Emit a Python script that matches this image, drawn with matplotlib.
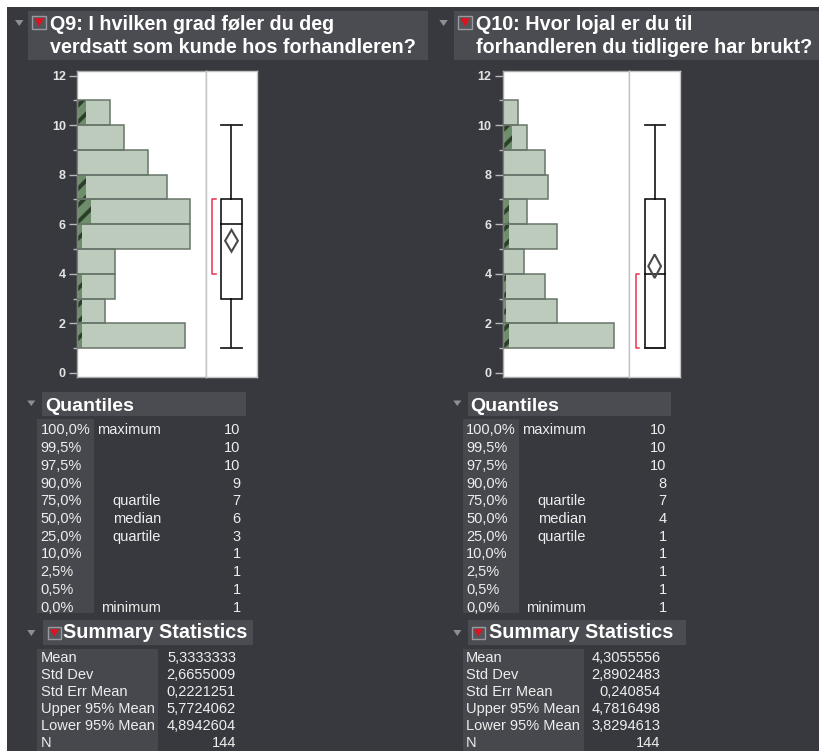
import matplotlib
matplotlib.use("Agg")
import matplotlib.pyplot as plt
from matplotlib.patches import Rectangle, Polygon

plt.rcParams['font.family'] = ['Liberation Sans', 'DejaVu Sans']
plt.rcParams['hatch.linewidth'] = 2.8

# histogram counts per answer value (1..10)
values = [1, 2, 3, 4, 5, 6, 7, 8, 9, 10]
q9_counts = [23, 6, 8, 8, 24, 24, 19, 15, 10, 7]
q10_counts = [37, 18, 14, 7, 18, 8, 15, 14, 8, 5]
# selected rows (hatched part of each bar)
q9_selected = [1, 1, 1, 0, 1, 3, 2, 0, 0, 2]
q10_selected = [2, 1, 1, 0, 2, 2, 0, 0, 3, 0]

q9_title = ["Q9: I hvilken grad føler du deg", "verdsatt som kunde hos forhandleren?"]
q10_title = ["Q10: Hvor lojal er du til", "forhandleren du tidligere har brukt?"]

q_pct = ["100,0%", "99,5%", "97,5%", "90,0%", "75,0%", "50,0%", "25,0%",
         "10,0%", "2,5%", "0,5%", "0,0%"]
q_lbl = ["maximum", "", "", "", "quartile", "median", "quartile", "", "", "", "minimum"]
q9_quant = [10, 10, 10, 9, 7, 6, 3, 1, 1, 1, 1]
q10_quant = [10, 10, 10, 8, 7, 4, 1, 1, 1, 1, 1]

stat_names = ["Mean", "Std Dev", "Std Err Mean", "Upper 95% Mean", "Lower 95% Mean", "N"]
q9_stats = ["5,3333333", "2,6655009", "0,2221251", "5,7724062", "4,8942604", "144"]
q10_stats = ["4,3055556", "2,8902483", "0,240854", "4,7816498", "3,8294613", "144"]

# shortest half bracket
q9_short = [4, 7]
q10_short = [1, 4]

W, H = 820, 751
BG = '#37393e'
HEAD = '#4b4c51'
SHADE = '#46484d'
TXT = '#eeeeee'

fig = plt.figure(figsize=(W / 100, H / 100), dpi=100, facecolor='white')


def fx(x):
    return x / W


def fy(y):
    return 1 - y / H


def rect(x0, y0, x1, y1, fc, ec='none', lw=0, z=-1):
    fig.add_artist(Rectangle((fx(x0), fy(y1)), (x1 - x0) / W, (y1 - y0) / H,
                             transform=fig.transFigure, facecolor=fc,
                             edgecolor=ec, linewidth=lw, zorder=z))


def tri_down(x0, y0, x1, y1, color, z=-0.5):
    fig.add_artist(Polygon([(fx(x0), fy(y0)), (fx(x1), fy(y0)), (fx((x0 + x1) / 2), fy(y1))],
                           closed=True, transform=fig.transFigure,
                           facecolor=color, edgecolor='none', zorder=z))


def red_icon(x0, y0, x1, y1):
    rect(x0, y0, x1, y1, '#55565b', ec='#9a9a9e', lw=1, z=-0.8)
    tri_down(x0 + 2.2, y0 + 2.2, x1 - 2.2, y1 - 2.2, '#e3101e')


def put(x, y, s, size=10.5, ha='left', weight='normal', color=TXT):
    fig.text(fx(x), fy(y), s, ha=ha, va='baseline', fontsize=size,
             fontweight=weight, color=color)


def to_num(s):
    return float(s.replace(',', '.'))


# dark window background
rect(6.7, 7.3, W, H, BG, z=-2)

panels = [
    dict(title=q9_title, counts=q9_counts, sel=q9_selected, quant=q9_quant,
         stats=q9_stats, short=q9_short,
         hist=(77, 206), box=(206, 257),
         tbox=(28.3, 428.3), ttri=15, ticon=32.3, ttext=50,
         qhead=(41.7, 245.7), qcol=(36.7, 94.3), qtxt=(40.7, 161, 240.7), qtri=27.3, qhx=45,
         shead=(42.7, 253), scol=(37.3, 158.3), stxt=(40.7, 236), sicon=47.7, shx=63.5),
    dict(title=q10_title, counts=q10_counts, sel=q10_selected, quant=q10_quant,
         stats=q10_stats, short=q10_short,
         hist=(502.7, 629.3), box=(629.3, 680),
         tbox=(454, 820), ttri=439.3, ticon=458.3, ttext=475.7,
         qhead=(467.7, 671), qcol=(462.7, 519.3), qtxt=(466, 586, 666.7), qtri=453.3, qhx=470.7,
         shead=(467.7, 685.7), scol=(462.7, 584), stxt=(466, 660.7), sicon=471.7, shx=489.5),
]

y_top, y_bot = 71, 377
ylim = (-0.17, 12.19)

for p in panels:
    # title block
    rect(p['tbox'][0], 10.7, p['tbox'][1], 60, HEAD)
    tri_down(p['ttri'], 20, p['ttri'] + 8.5, 26, '#8d8f94')
    red_icon(p['ticon'], 16, p['ticon'] + 13.5, 29)
    put(p['ttext'], 30, p['title'][0], size=14.2, weight='bold', color='white')
    put(p['ttext'] + 0.5, 53.3, p['title'][1], size=14.2, weight='bold', color='white')

    # histogram
    h0, h1 = p['hist']
    ax = fig.add_axes([fx(h0), fy(y_bot), (h1 - h0) / W, (y_bot - y_top) / H])
    counts = p['counts']
    ax.barh(values, counts, height=1, align='edge', color='#bccbbb', linewidth=0, zorder=1)
    ax.barh(values, p['sel'], height=1, align='edge', facecolor='#6e8d6b',
            edgecolor='#2c3f2b', hatch='//', linewidth=0, zorder=2)
    ax.barh(values, counts, height=1, align='edge', facecolor='none',
            edgecolor='#68756a', linewidth=1.1, zorder=3)
    ax.set_xlim(0, max(counts) * 1.14)
    ax.set_ylim(*ylim)
    ax.set_xticks([])
    ax.set_yticks(range(0, 13, 2))
    ax.set_yticks(range(1, 12, 2), minor=True)
    ax.tick_params(axis='y', which='major', length=6, width=1, color='#b8b8b8',
                   labelcolor='#e4e4e4', labelsize=9, pad=2)
    ax.tick_params(axis='y', which='minor', length=3, width=1, color='#b8b8b8')
    for lbl in ax.get_yticklabels():
        lbl.set_fontweight('bold')
    for s in ax.spines.values():
        s.set_color('#a8a8a8')
        s.set_linewidth(1)

    # box plot
    b0, b1 = p['box']
    bx = fig.add_axes([fx(b0), fy(y_bot), (b1 - b0) / W, (y_bot - y_top) / H])
    bx.set_xlim(0, 1)
    bx.set_ylim(*ylim)
    bx.set_xticks([])
    bx.set_yticks([])
    for s in bx.spines.values():
        s.set_color('#c4c4c4')
        s.set_linewidth(1)
    q = p['quant']
    vmax, q3, med, q1, vmin = q[0], q[4], q[5], q[6], q[10]
    c, hw = 0.5, 0.197
    bx.add_patch(Rectangle((c - hw, q1), 2 * hw, q3 - q1, facecolor='white',
                           edgecolor='black', linewidth=1.1, zorder=2))
    bx.plot([c - hw, c + hw], [med, med], color='black', lw=1.1, zorder=3)
    bx.plot([c, c], [q3, vmax], color='black', lw=1.1)
    bx.plot([c, c], [vmin, q1], color='black', lw=1.1)
    bx.plot([c - hw, c + hw], [vmax, vmax], color='#222222', lw=1.3)
    bx.plot([c - hw, c + hw], [vmin, vmin], color='#222222', lw=1.3)
    mean = to_num(p['stats'][0])
    upper = to_num(p['stats'][3])
    lower = to_num(p['stats'][4])
    dw = 0.125
    bx.add_patch(Polygon([(c, lower), (c + dw, mean), (c, upper), (c - dw, mean)],
                         closed=True, facecolor='none', edgecolor='#4a4a4a',
                         linewidth=1.5, zorder=4))
    lo, hi = p['short']
    bx.plot([0.19, 0.124, 0.124, 0.19], [hi, hi, lo, lo], color='#e8334d', lw=1.1)

    # quantiles table
    rect(p['qhead'][0], 391.7, p['qhead'][1], 416, HEAD)
    tri_down(p['qtri'], 400.5, p['qtri'] + 8, 406, '#8d8f94')
    put(p['qhx'], 410.7, 'Quantiles', size=14, weight='bold', color='white')
    rect(p['qcol'][0], 419.3, p['qcol'][1], 613.3, SHADE)
    xl, xm, xr = p['qtxt']
    for i in range(len(q_pct)):
        yb = 434.3 + 17.74 * i
        put(xl, yb, q_pct[i])
        if q_lbl[i]:
            put(xm, yb, q_lbl[i], ha='right')
        put(xr, yb, str(q[i]), ha='right')

    # summary statistics table
    rect(p['shead'][0], 620, p['shead'][1], 645, HEAD)
    tri_down(p['qtri'], 630, p['qtri'] + 8, 636, '#8d8f94')
    red_icon(p['sicon'], 627, p['sicon'] + 13.5, 638.5)
    put(p['shx'], 638.3, 'Summary Statistics', size=14.2, weight='bold', color='white')
    rect(p['scol'][0], 649.3, p['scol'][1], H, SHADE)
    sl, sr = p['stxt']
    for i in range(len(stat_names)):
        yb = 662.5 + 16.9 * i
        put(sl, yb, stat_names[i])
        put(sr, yb, p['stats'][i], ha='right')

fig.savefig('out.png', dpi=100, facecolor=fig.get_facecolor())
